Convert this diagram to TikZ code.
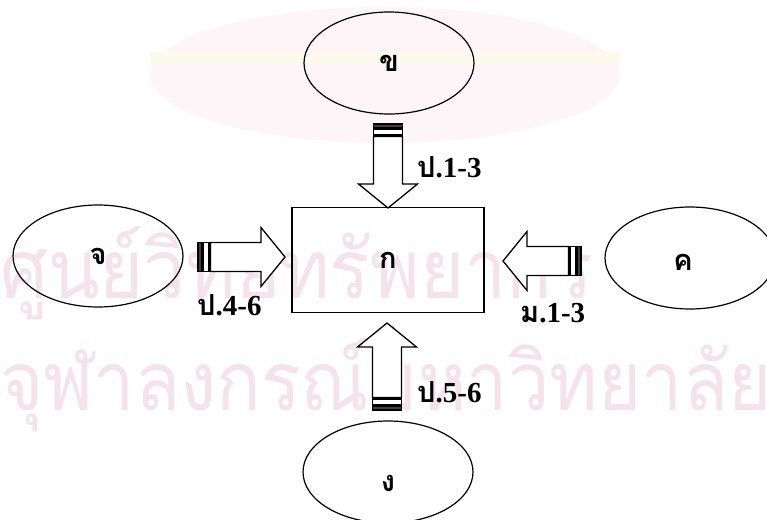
\documentclass[tikz,border=0pt]{standalone}
\usepackage{fontspec}
\setmainfont{Liberation Serif}
\newfontfamily\thai[Script=Thai]{Loma}
\usetikzlibrary{shapes.geometric}
\definecolor{wm}{RGB}{246,226,234}
\definecolor{wmlogo}{RGB}{253,245,247}
\definecolor{wmband}{RGB}{253,250,236}
\newcommand\sarrow[4]{% x, y, angle, total length; head length 24
  \begin{scope}[shift={(#1,#2)},rotate=#3]
    \draw[stripe,fill=black!75] (0,-14.5) rectangle (4,14.5);
    \draw[stripe,fill=white] (5.5,-14.5) rectangle (11,14.5);
    \draw[blockarrow] (12.5,-14.5) -- ({#4-24},-14.5) -- ({#4-24},-29.5) -- (#4,0)
      -- ({#4-24},29.5) -- ({#4-24},14.5) -- (12.5,14.5) -- cycle;
  \end{scope}}
\begin{document}
\begin{tikzpicture}[x=1pt,y=-1pt,
  oval/.style={draw,line width=1.2pt,ellipse,minimum width=170pt,minimum height=102pt,inner sep=0pt},
  box/.style={draw,line width=1.2pt,rectangle,minimum width=192pt,minimum height=105pt,inner sep=0pt},
  blockarrow/.style={draw,line width=1.3pt,fill=white,line join=miter},
  stripe/.style={draw,line width=1.1pt},
  nodetext/.style={font=\thai\bfseries\fontsize{29}{31}\selectfont},
  lab/.style={anchor=base west,inner sep=0pt,font=\bfseries\fontsize{29}{31}\selectfont},
  wmtext/.style={text=wm,inner sep=0pt,anchor=base west,font=\thai\fontsize{82}{90}\selectfont}]
\useasboundingbox (0,0) rectangle (767,519);
\fill[white] (0,0) rectangle (767,519);
% faint watermark
\fill[wmlogo] (385,75) ellipse [x radius=235,y radius=68];
\fill[wmband] (150,52) rectangle (620,64);
\node[wmtext] (wm1) at (0,298) {\scalebox{0.92}[1]{ศูนย์วิทยทรัพยากร}};
\node[wmtext] (wm2) at (0,410) {\scalebox{0.90}[1]{จุฬาลงกรณ์มหาวิทยาลัย}};
% nodes
\node[oval] (kh) at (389,63) {};
\node[nodetext] at (kh.center) {ข};
\node[oval] (ch) at (98,256) {};
\node[nodetext] at (ch.center) {จ};
\node[oval] (kk) at (690,258) {};
\node[nodetext] at (683,262) {ค};
\node[oval] (ng) at (388,472) {};
\node[nodetext] at (388,483) {ง};
\node[box] (k) at (388,260) {};
\node[nodetext] at (k.center) {ก};
% striped block arrows
\sarrow{388}{124}{-90}{84}
\sarrow{198}{257}{0}{87}
\sarrow{581}{261}{180}{78}
\sarrow{387}{410}{90}{87}
% labels
\node[lab] (l1) at (417,177) {{\thai ป}.1-3};
\node[lab] (l2) at (197,315) {{\thai ป}.4-6};
\node[lab] (l3) at (520,322) {{\thai ม}.1-3};
\node[lab] (l4) at (417,402) {{\thai ป}.5-6};
\end{tikzpicture}
\end{document}
